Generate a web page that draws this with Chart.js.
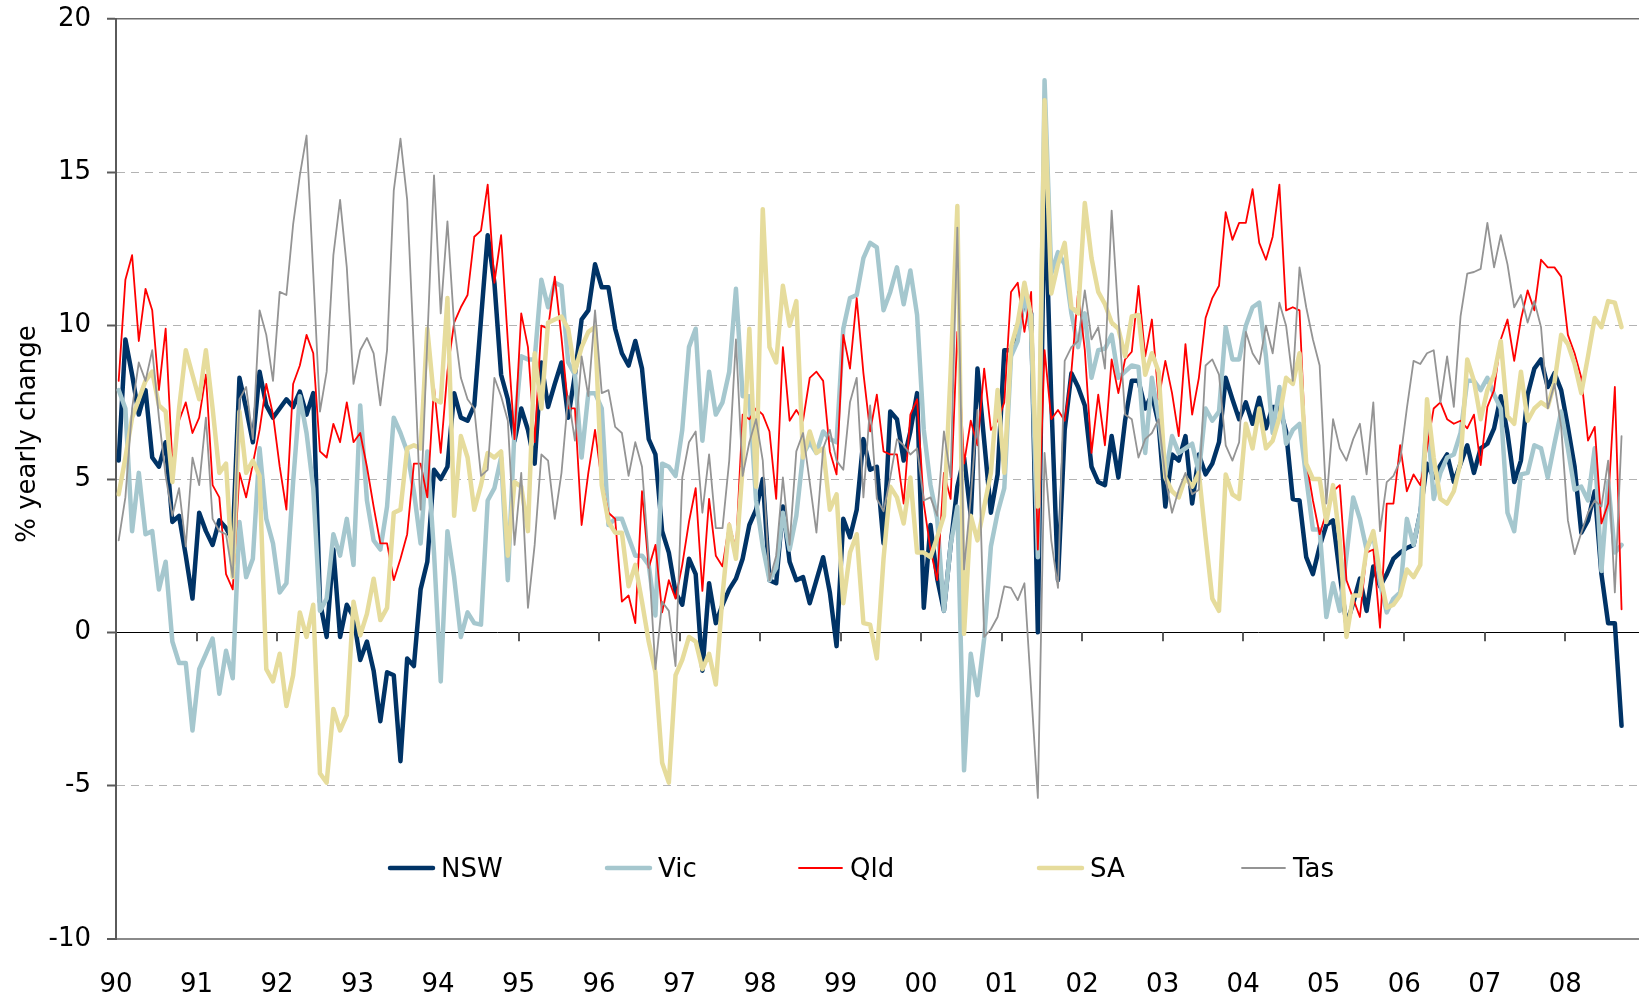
<!DOCTYPE html>
<html>
<head>
<meta charset="utf-8">
<script src="https://cdn.jsdelivr.net/npm/chart.js@4.4.1/dist/chart.umd.min.js"></script>
<style>
html,body{margin:0;padding:0;background:#fff;}
canvas{display:block;}
</style>
</head>
<body>
<canvas id="c" width="1639" height="999"></canvas>
<script>
// ---------- DATA (monthly, Jan 1990 - Sep 2008) ----------
const yearLabels = ['90','91','92','93','94','95','96','97','98','99','00','01','02','03','04','05','06','07','08'];
const yTickValues = [-10,-5,0,5,10,15,20];
const seriesNames = ['NSW','Vic','Qld','SA','Tas'];
const yAxisTitle = '% yearly change';

const nsw = [
 5.6, 9.55, 8.4, 7.1, 7.9, 5.7, 5.4, 6.2, 3.6, 3.8, 2.5, 1.1,
 3.9, 3.3, 2.85, 3.65, 3.4, 3.0, 8.3, 7.3, 6.2, 8.5, 7.4, 7.0,
 7.3, 7.6, 7.35, 7.85, 7.1, 7.8, 1.0, -0.15, 2.7, -0.15, 0.9, 0.5,
 -0.9, -0.3, -1.25, -2.9, -1.3, -1.4, -4.2, -0.85, -1.1, 1.4, 2.3, 5.3,
 5.0, 5.4, 7.8, 7.0, 6.9, 7.4, 10.2, 12.95, 11.4, 8.4, 7.6, 6.25,
 7.3, 6.6, 5.5, 8.8, 7.35, 8.1, 8.8, 7.0, 8.4, 10.2, 10.5, 12.0,
 11.25, 11.25, 9.9, 9.1, 8.7, 9.5, 8.6, 6.3, 5.8, 3.3, 2.6, 1.3,
 0.9, 2.4, 1.9, -1.25, 1.6, 0.3, 0.9, 1.4, 1.75, 2.4, 3.5, 4.0,
 5.0, 1.7, 1.6, 4.1, 2.3, 1.7, 1.8, 0.95, 1.7, 2.45, 1.3, -0.45,
 3.7, 3.1, 4.0, 6.3, 5.3, 5.4, 2.9, 7.2, 6.95, 5.6, 6.55, 7.8,
 0.8, 3.5, 1.75, 0.7, 2.85, 4.75, 5.7, 3.8, 8.6, 6.25, 3.9, 5.15,
 9.2, 9.2, 9.7, 10.9, 10.4, 0.0, 14.75, 7.6, 1.7, 6.6, 8.45, 8.0,
 7.4, 5.4, 4.9, 4.8, 6.4, 5.05, 6.9, 8.2, 8.2, 7.3, 7.75, 6.8,
 4.1, 5.8, 5.6, 6.4, 4.2, 5.8, 5.15, 5.5, 6.2, 8.3, 7.6, 6.95,
 7.5, 6.8, 7.65, 6.65, 7.35, 7.35, 6.55, 4.35, 4.3, 2.45, 1.9, 2.8,
 3.5, 3.65, 1.9, 0.25, 0.95, 1.75, 0.7, 2.15, 1.5, 1.9, 2.4, 2.6,
 2.75, 2.85, 3.9, 5.5, 5.05, 5.45, 5.8, 4.9, 5.5, 6.1, 5.2, 6.0,
 6.15, 6.65, 7.7, 6.5, 4.9, 5.6, 7.75, 8.6, 8.9, 8.0, 8.45, 7.9,
 6.7, 5.4, 3.25, 3.65, 4.6, 1.9, 0.3, 0.3, -3.05
];

const vic = [
 7.9, 7.3, 3.3, 5.2, 3.2, 3.3, 1.4, 2.3, -0.3, -1.0, -1.0, -3.2,
 -1.2, -0.7, -0.2, -2.0, -0.6, -1.5, 3.6, 1.8, 2.4, 6.0, 3.7, 2.9,
 1.3, 1.6, 4.9, 7.7, 6.5, 4.7, 0.7, 1.1, 3.2, 2.5, 3.7, 2.2,
 7.4, 4.3, 3.0, 2.7, 4.1, 7.0, 6.5, 5.9, 4.6, 2.9, 5.9, 2.6,
 -1.6, 3.3, 1.8, -0.15, 0.65, 0.3, 0.25, 4.3, 4.7, 5.7, 1.7, 6.6,
 9.0, 8.9, 8.9, 11.5, 10.6, 11.4, 11.3, 8.8, 8.4, 5.7, 7.8, 7.8,
 7.3, 3.5, 3.7, 3.7, 3.1, 2.5, 2.5, 2.2, 0.55, 5.5, 5.4, 5.1,
 6.6, 9.3, 9.9, 6.25, 8.5, 7.1, 7.5, 8.5, 11.2, 7.7, 7.7, 4.3,
 2.8, 1.7, 2.1, 3.9, 2.7, 3.8, 5.8, 6.2, 5.85, 6.55, 6.3, 6.2,
 9.9, 10.9, 11.0, 12.2, 12.7, 12.55, 10.5, 11.1, 11.9, 10.7, 11.8, 10.35,
 6.6, 4.8, 3.7, 0.7, 2.85, 4.1, -4.5, -0.7, -2.05, -0.2, 2.8, 3.9,
 4.7, 9.0, 9.5, 11.05, 9.8, 2.45, 18.0, 11.7, 12.4, 12.0, 10.4, 9.3,
 10.4, 8.3, 9.2, 9.25, 9.7, 8.3, 8.5, 8.7, 8.65, 5.85, 8.3, 7.0,
 5.15, 6.4, 5.85, 6.0, 6.15, 5.2, 7.3, 6.9, 7.2, 9.95, 8.9, 8.9,
 10.0, 10.6, 10.75, 9.0, 6.5, 8.0, 6.15, 6.6, 6.8, 5.05, 3.35, 3.35,
 0.5, 1.6, 0.7, 2.5, 4.4, 3.7, 2.7, 3.2, 1.6, 0.65, 1.1, 1.3,
 3.7, 2.85, 3.9, 7.1, 4.35, 5.2, 5.7, 5.8, 6.5, 8.2, 8.2, 7.9,
 8.3, 7.75, 7.3, 3.9, 3.3, 5.15, 5.2, 6.1, 6.0, 5.05, 6.15, 7.2,
 6.0, 4.65, 4.75, 4.3, 6.0, 2.0, 4.9, 2.6, 2.85
];

const qld = [
 8.2, 11.5, 12.3, 9.5, 11.2, 10.5, 7.9, 9.9, 5.5, 6.9, 7.5, 6.5,
 7.0, 8.4, 4.8, 4.4, 1.9, 1.4, 5.2, 4.4, 5.5, 6.6, 8.1, 7.1,
 5.4, 4.0, 8.1, 8.7, 9.7, 9.1, 5.9, 5.7, 6.8, 6.2, 7.5, 6.2,
 6.5, 5.4, 4.1, 2.9, 2.9, 1.7, 2.4, 3.2, 5.5, 5.5, 4.4, 8.0,
 5.85, 8.5, 10.1, 10.6, 11.0, 12.9, 13.1, 14.6, 11.4, 12.95, 9.5, 6.3,
 10.4, 9.3, 6.2, 10.0, 9.9, 11.6, 9.6, 7.3, 7.3, 3.5, 5.2, 6.6,
 4.9, 3.9, 3.7, 1.0, 1.2, 0.3, 4.6, 2.1, 2.85, 0.65, 1.7, 1.1,
 2.2, 3.6, 4.7, 1.35, 4.35, 2.5, 2.15, 3.55, 2.7, 7.1, 6.95, 7.3,
 7.1, 6.55, 4.35, 9.3, 6.9, 7.25, 6.9, 8.3, 8.5, 8.2, 5.9, 5.15,
 9.7, 8.6, 10.9, 8.45, 6.55, 7.75, 5.9, 5.8, 5.8, 4.2, 7.1, 7.6,
 4.2, 2.7, 1.7, 5.2, 4.35, 9.8, 5.5, 6.9, 6.1, 8.6, 6.6, 6.9,
 7.5, 11.1, 11.4, 9.8, 11.1, 2.7, 9.2, 6.95, 7.25, 6.9, 8.5, 11.1,
 9.2, 5.85, 7.75, 6.1, 8.9, 7.8, 8.9, 9.15, 11.3, 9.0, 10.2, 7.6,
 8.85, 7.8, 6.4, 9.4, 7.1, 8.3, 10.25, 10.9, 11.3, 13.7, 12.8, 13.35,
 13.35, 14.45, 12.7, 12.15, 12.9, 14.6, 10.5, 10.6, 10.5, 5.6, 4.3, 3.2,
 3.9, 4.6, 4.8, 1.7, 1.1, 0.5, 2.6, 2.7, 0.15, 4.2, 4.2, 6.1,
 4.6, 5.15, 4.8, 6.0, 7.3, 7.5, 6.95, 6.8, 6.9, 6.65, 7.1, 5.45,
 7.35, 7.9, 9.55, 10.2, 8.85, 10.2, 11.15, 10.5, 12.15, 11.9, 11.9, 11.6,
 9.7, 9.1, 8.3, 6.25, 6.7, 3.55, 4.2, 8.0, 0.75
];

const sa = [
 4.5, 5.7, 7.0, 7.6, 8.2, 8.5, 7.4, 7.2, 4.9, 7.3, 9.2, 8.4,
 7.6, 9.2, 7.3, 5.2, 5.5, 1.8, 7.2, 5.2, 5.6, 5.1, -1.2, -1.6,
 -0.7, -2.4, -1.4, 0.65, -0.15, 0.9, -4.6, -4.9, -2.5, -3.2, -2.7, 1.0,
 -0.1, 0.6, 1.75, 0.4, 0.8, 3.9, 4.0, 6.0, 6.1, 6.0, 9.9, 7.6,
 7.5, 10.9, 3.8, 6.4, 5.7, 4.0, 4.8, 5.85, 5.7, 5.9, 2.5, 4.9,
 4.75, 3.3, 9.1, 7.3, 10.1, 10.2, 10.3, 9.9, 8.5, 9.3, 9.8, 9.95,
 4.8, 3.6, 3.25, 3.25, 1.5, 2.2, 1.0, -0.3, -1.3, -4.25, -4.9, -1.4,
 -0.9, -0.15, -0.3, -1.2, -0.7, -1.7, 1.2, 3.5, 2.4, 5.4, 9.9, 4.75,
 13.8, 9.3, 8.8, 11.3, 10.0, 10.8, 5.7, 6.55, 5.85, 6.0, 4.0, 4.5,
 0.95, 2.6, 3.2, 0.3, 0.25, -0.85, 2.4, 4.75, 4.4, 3.55, 5.05, 2.6,
 2.6, 2.45, 3.1, 3.8, 8.5, 13.9, -0.05, 3.8, 3.0, 4.1, 5.2, 7.9,
 5.2, 9.3, 10.1, 11.4, 10.3, 4.1, 17.35, 11.05, 12.0, 12.7, 10.6, 10.4,
 14.0, 12.2, 11.1, 10.7, 10.1, 9.9, 9.0, 10.3, 10.35, 8.4, 9.1, 8.5,
 5.05, 4.6, 4.4, 5.05, 4.75, 5.2, 3.1, 1.1, 0.7, 5.15, 4.5, 4.35,
 6.8, 6.0, 7.3, 6.0, 6.25, 7.0, 8.3, 8.1, 9.1, 5.5, 5.0, 5.0,
 3.6, 4.8, 3.0, -0.15, 1.2, 1.2, 2.7, 3.3, 1.9, 0.8, 0.9, 1.2,
 2.05, 1.8, 2.2, 7.6, 5.7, 4.35, 4.2, 4.6, 5.55, 8.9, 8.2, 6.95,
 7.9, 8.4, 9.5, 7.05, 6.8, 8.5, 6.9, 7.3, 7.5, 7.35, 8.15, 9.7,
 9.4, 8.75, 7.8, 9.0, 10.25, 9.95, 10.8, 10.75, 9.95
];

const tas = [
 3.0, 4.4, 7.3, 8.8, 8.2, 9.2, 7.0, 5.1, 3.8, 4.7, 2.8, 5.7,
 4.8, 7.0, 3.7, 3.3, 3.2, 1.8, 7.6, 8.0, 6.3, 10.5, 9.7, 8.2,
 11.1, 11.0, 13.3, 14.9, 16.2, 11.7, 7.2, 8.5, 12.3, 14.1, 11.9, 8.1,
 9.2, 9.6, 9.1, 7.4, 9.2, 14.4, 16.1, 14.1, 9.2, 4.0, 9.5, 14.9,
 10.4, 13.4, 10.0, 8.3, 7.6, 7.3, 5.1, 5.3, 8.3, 7.7, 6.9, 2.85,
 5.2, 0.8, 2.85, 5.8, 5.6, 3.7, 5.2, 7.7, 6.25, 9.0, 7.7, 10.5,
 7.8, 7.9, 6.7, 6.5, 5.1, 6.2, 5.4, 2.4, -1.2, 1.0, 0.7, -1.1,
 5.05, 6.2, 6.55, 3.9, 5.8, 3.4, 3.4, 5.6, 9.55, 5.1, 6.2, 6.95,
 5.6, 1.7, 2.5, 5.05, 2.85, 5.9, 6.5, 4.9, 3.25, 6.0, 6.6, 5.6,
 5.3, 7.5, 8.3, 4.4, 7.4, 4.35, 3.95, 5.05, 6.3, 6.1, 5.8, 6.0,
 4.3, 4.4, 3.8, 6.55, 5.05, 13.2, 2.05, 4.4, 7.25, -0.15, 0.1, 0.5,
 1.5, 1.45, 1.05, 1.6, -1.9, -5.4, 5.85, 3.0, 1.45, 8.85, 9.3, 9.5,
 11.15, 9.55, 9.95, 8.6, 13.75, 10.3, 7.1, 6.95, 5.7, 6.3, 6.5, 6.95,
 5.05, 3.9, 4.65, 5.2, 4.5, 4.65, 8.7, 8.9, 8.4, 6.1, 5.6, 6.2,
 9.8, 9.1, 8.75, 10.0, 9.1, 10.75, 10.0, 8.2, 11.9, 10.6, 9.55, 8.7,
 4.2, 6.95, 6.0, 5.6, 6.3, 6.8, 5.15, 7.5, 3.3, 4.9, 5.1, 5.6,
 7.3, 8.85, 8.75, 9.1, 9.2, 7.5, 9.0, 7.35, 10.3, 11.7, 11.75, 11.85,
 13.35, 11.9, 12.95, 12.0, 10.6, 11.0, 10.1, 10.8, 9.95, 7.3, 8.1, 6.7,
 3.65, 2.55, 3.25, 3.9, 4.3, 4.1, 5.6, 1.3, 6.4
];

// ---------- STYLE ----------
const FONT = 'Verdana, "DejaVu Sans", sans-serif';
const seriesValues = [nsw, vic, qld, sa, tas];
const seriesColors = ['#003366', '#a5c7ce', '#ff0000', '#e6dc9c', '#949494'];
const seriesWidths = [4.5, 4.5, 1.8, 4.5, 1.8];
const seriesOrder = [5, 4, 3, 2, 1];   // Tas drawn on top, NSW underneath
const MONTH_OFFSET = 0.4;              // point sits inside its month slot
const legendX = [390, 607, 799, 1039, 1242];

const datasets = seriesNames.map((name, k) => ({
  label: name,
  data: seriesValues[k].map((v, i) => ({ x: i + MONTH_OFFSET, y: v })),
  borderColor: seriesColors[k],
  backgroundColor: seriesColors[k],
  borderWidth: seriesWidths[k],
  pointRadius: 0,
  pointHoverRadius: 0,
  tension: 0,
  fill: false,
  order: seriesOrder[k],
  borderJoinStyle: 'round',
  borderCapStyle: 'round'
}));

const decorPlugin = {
  id: 'decor',
  beforeDatasetsDraw(chart) {
    const { ctx, scales: { x, y } } = chart;
    const y0 = y.getPixelForValue(0);
    ctx.save();
    ctx.strokeStyle = '#5a5a5a';
    ctx.lineWidth = 2;
    yearLabels.forEach((_, k) => {
      const px = Math.round(x.getPixelForValue(k * 12));
      ctx.beginPath();
      ctx.moveTo(px, y0);
      ctx.lineTo(px, y0 + 9);
      ctx.stroke();
    });
    ctx.restore();
  },
  afterDraw(chart) {
    const { ctx } = chart;
    ctx.save();
    // y axis title
    ctx.translate(28, 434);
    ctx.rotate(-Math.PI / 2);
    ctx.font = '26px ' + FONT;
    ctx.fillStyle = '#000';
    ctx.textAlign = 'center';
    ctx.textBaseline = 'middle';
    ctx.fillText(yAxisTitle, 0, 0);
    ctx.restore();

    // legend (inside plot area)
    ctx.save();
    ctx.font = '26px ' + FONT;
    ctx.textBaseline = 'middle';
    ctx.textAlign = 'left';
    chart.data.datasets.forEach((ds, k) => {
      const lx = legendX[k];
      const ly = 868;
      ctx.strokeStyle = ds.borderColor;
      ctx.lineWidth = ds.borderWidth;
      ctx.lineCap = 'round';
      ctx.beginPath();
      ctx.moveTo(lx, ly);
      ctx.lineTo(lx + 43, ly);
      ctx.stroke();
      ctx.fillStyle = '#000';
      ctx.fillText(ds.label, lx + 51, ly + 2);
    });
    ctx.restore();
  }
};

const dashedValues = [-5, 5, 10, 15];

new Chart(document.getElementById('c'), {
  type: 'line',
  data: { datasets },
  plugins: [decorPlugin],
  options: {
    responsive: false,
    animation: false,
    devicePixelRatio: 1,
    layout: { padding: { top: 19, right: 0, bottom: 0, left: 0 } },
    plugins: { legend: { display: false }, tooltip: { enabled: false } },
    scales: {
      x: {
        type: 'linear',
        min: 0,
        max: 227,
        afterBuildTicks: s => { s.ticks = yearLabels.map((_, k) => ({ value: k * 12 })); },
        ticks: {
          autoSkip: false,
          maxRotation: 0,
          padding: 31,
          color: '#000',
          font: { family: FONT, size: 26 },
          callback: v => yearLabels[Math.round(v / 12)] ?? ''
        },
        grid: { display: false, drawTicks: false },
        border: { display: false },
        afterFit: s => { s.height = 60; s.paddingRight = 0; }
      },
      y: {
        min: -10,
        max: 20,
        afterBuildTicks: s => { s.ticks = yTickValues.map(v => ({ value: v })); },
        ticks: {
          padding: 16,
          color: '#000',
          font: { family: FONT, size: 26 },
          callback: v => String(v)
        },
        grid: {
          drawTicks: true,
          tickLength: 9,
          tickColor: '#5a5a5a',
          tickWidth: 2,
          tickBorderDash: [],
          color: ctx => {
            const v = ctx.tick ? ctx.tick.value : null;
            if (v === 0) return '#000000';
            if (v === 20) return '#6e6e6e';
            if (v === -10) return '#8a8a8a';
            return '#b3b3b3';
          },
          lineWidth: ctx => {
            const v = ctx.tick ? ctx.tick.value : null;
            if (v === -10) return 2;
            if (v === 20) return 1.5;
            return 1;
          }
        },
        border: {
          display: true,
          color: '#5a5a5a',
          width: 2,
          dash: ctx => (ctx.tick && dashedValues.includes(ctx.tick.value)) ? [8, 6] : []
        },
        afterFit: s => { s.width = 116; s.paddingTop = 0; s.paddingBottom = 0; }
      }
    }
  }
});
</script>
</body>
</html>
